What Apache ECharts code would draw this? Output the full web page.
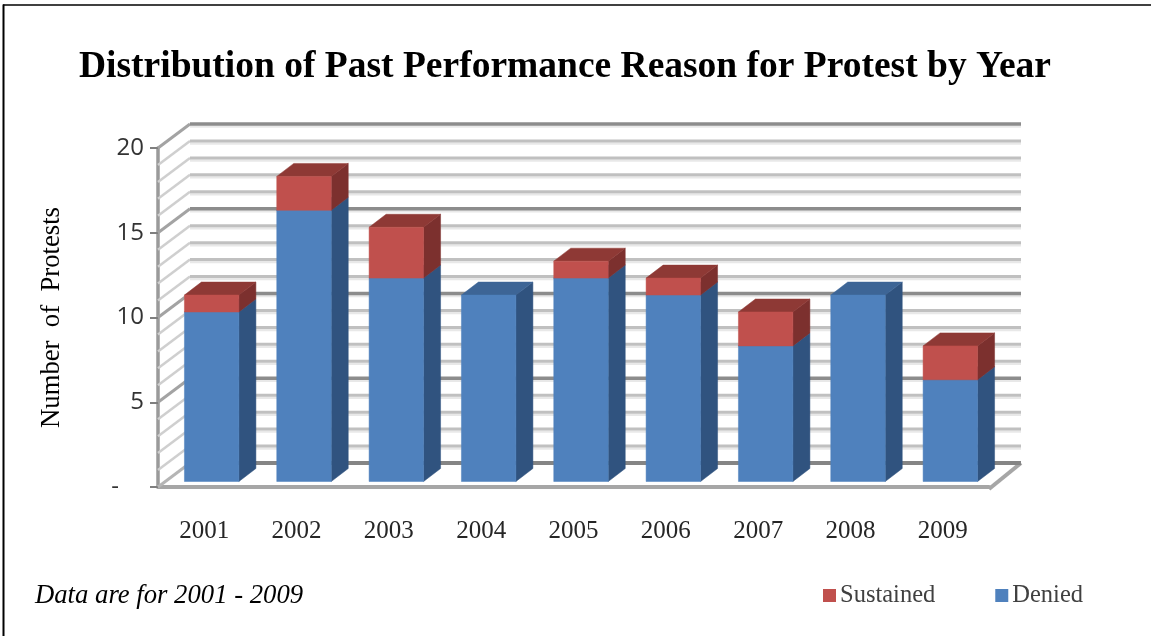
<!DOCTYPE html>
<html><head><meta charset="utf-8">
<style>html,body{margin:0;padding:0;background:#fff;overflow:hidden}#c{width:1151px;height:636px;filter:blur(0.5px)}</style>
<script src="https://cdn.jsdelivr.net/npm/echarts@6/dist/echarts.min.js"></script>
</head><body><div id="c"></div>
<script>
const years = ['2001','2002','2003','2004','2005','2006','2007','2008','2009'];
const denied = [10,16,12,11,12,11,8,11,6];
const sustained = [1,2,3,0,1,1,2,0,2];
const gridValues = [0,1,2,3,4,5,6,7,8,9,10,11,12,13,14,15,16,17,18,19,20];

const SERIF = '"Liberation Serif","Times New Roman",serif';
const WALL_DX = 32, WALL_DY = -24;
const BAR_DX = 17, BAR_DY = -13;
const BAR_SHIFT_X = 7.5, BAR_SHIFT_Y = -5.5;
const BAR_RATIO = 0.59;

function poly(points, fill) {
  return {type:'polygon', shape:{points}, style:{fill, stroke:fill, lineWidth:0.5}, silent:true};
}
function seg(x1,y1,x2,y2,stroke,lineWidth){
  return {type:'line', shape:{x1,y1,x2,y2}, style:{stroke,lineWidth}, silent:true};
}
function wallItem(params, api){
  const v = api.value(0), cs = params.coordSys;
  const y = api.coord([0,v])[1];
  const major = v % 5 === 0;
  const L = cs.x, R = cs.x + cs.width;
  const back = y + WALL_DY;
  const ch = [];
  if (v === 0) {
    ch.push(seg(L,y,L+WALL_DX,back,'#b5b5b5',3));
    ch.push(seg(R,y+2,R+WALL_DX,back,'#a6a6a6',4));
    ch.push(seg(L+WALL_DX,back,R+WALL_DX,back,'#858585',4));
  } else {
    ch.push(seg(L,y,L+WALL_DX,back,major?'#a3a3a3':'#cfcfcf',major?3:2.5));
    ch.push(seg(L+WALL_DX,back+2.5,R+WALL_DX,back+2.5,'#e8e8e8',2.5));
    ch.push(seg(L+WALL_DX,back,R+WALL_DX,back,major?'#8c8c8c':'#c0c0c0',major?3.5:3));
  }
  return {type:'group', children:ch};
}
function barRenderer(front, side, top){
  return function(params, api){
    const i = api.value(0), lo = api.value(1), hi = api.value(2);
    const band = api.size([1,0])[0];
    const w = band*BAR_RATIO;
    const cx = api.coord([i,0])[0] + BAR_SHIFT_X;
    const x0 = cx - w/2, x1 = cx + w/2;
    const y0 = api.coord([i,lo])[1] + BAR_SHIFT_Y;
    const y1 = api.coord([i,hi])[1] + BAR_SHIFT_Y;
    return {type:'group', children:[
      poly([[x1,y0],[x1+BAR_DX,y0+BAR_DY],[x1+BAR_DX,y1+BAR_DY],[x1,y1]], side),
      poly([[x0,y1],[x1,y1],[x1+BAR_DX,y1+BAR_DY],[x0+BAR_DX,y1+BAR_DY]], top),
      poly([[x0,y0],[x1,y0],[x1,y1],[x0,y1]], front)
    ]};
  };
}
const deniedData = years.map((y,i)=>[i,0,denied[i]]);
const sustainedData = years.map((y,i)=>[i,denied[i],denied[i]+sustained[i]]).filter(d=>d[2]>d[1]);

const chart = echarts.init(document.getElementById('c'), null, {renderer:'canvas'});
chart.setOption({
  animation:false,
  backgroundColor:'#fff',
  title:[
    {text:'Distribution of Past Performance Reason for Protest by Year', left:560, top:43, textAlign:'center',
     textStyle:{fontFamily:SERIF,fontWeight:'bold',fontSize:37.5,color:'#000'}},
    {text:'Data are for 2001 - 2009', left:30, top:577,
     textStyle:{fontFamily:SERIF,fontStyle:'italic',fontWeight:'normal',fontSize:26.7,color:'#000'}}
  ],
  legend:{data:[{name:'Sustained'},{name:'Denied'}], left:818, top:578, itemWidth:13, itemHeight:13, itemGap:60,
    icon:'rect', selectedMode:false,
    textStyle:{fontFamily:SERIF,fontSize:24.5,color:'#404040',padding:[0,0,0,-1]}},
  graphic:[
    {type:'line', shape:{x1:3,y1:5,x2:1151,y2:5}, style:{stroke:'#000',lineWidth:1.5}, silent:true},
    {type:'line', shape:{x1:3.5,y1:4.5,x2:3.5,y2:636}, style:{stroke:'#000',lineWidth:2}, silent:true}
  ],
  grid:{left:158,right:162,top:148,bottom:149},
  xAxis:{type:'category',data:years,boundaryGap:true,
    axisLine:{show:true,lineStyle:{color:'#a6a6a6',width:4}},axisTick:{show:false},
    axisLabel:{fontFamily:SERIF,fontSize:25,color:'#262626',margin:32}},
  yAxis:{type:'value',min:0,max:20,interval:5,
    name:'Number  of  Protests',nameLocation:'middle',nameRotate:90,nameGap:93,
    nameTextStyle:{fontFamily:SERIF,fontSize:26.7,color:'#000'},
    axisLine:{show:true,lineStyle:{color:'#9a9a9a',width:3.5}},
    axisTick:{show:true,length:8,lineStyle:{color:'#7f7f7f',width:2}},
    splitLine:{show:false},
    axisLabel:{fontFamily:'"Open Sans",sans-serif',fontSize:24,color:'#333333',margin:14,
      formatter:v=>v===0?'-    ':String(v)}},
  series:[
    {type:'custom',name:'walls',silent:true,z:1,clip:false,coordinateSystem:'cartesian2d',
     data:gridValues.map(v=>[v]),encode:{y:0},renderItem:wallItem},
    {type:'custom',name:'Denied',z:3,clip:false,coordinateSystem:'cartesian2d',
     itemStyle:{color:'#4f81bd'},data:deniedData,encode:{x:0,y:2},
     renderItem:barRenderer('#4f81bd','#30537f','#3d6596')},
    {type:'custom',name:'Sustained',z:4,clip:false,coordinateSystem:'cartesian2d',
     itemStyle:{color:'#c0504d'},data:sustainedData,encode:{x:0,y:2},
     renderItem:barRenderer('#c0504d','#7c302e','#8e3935')}
  ]
});
</script></body></html>
